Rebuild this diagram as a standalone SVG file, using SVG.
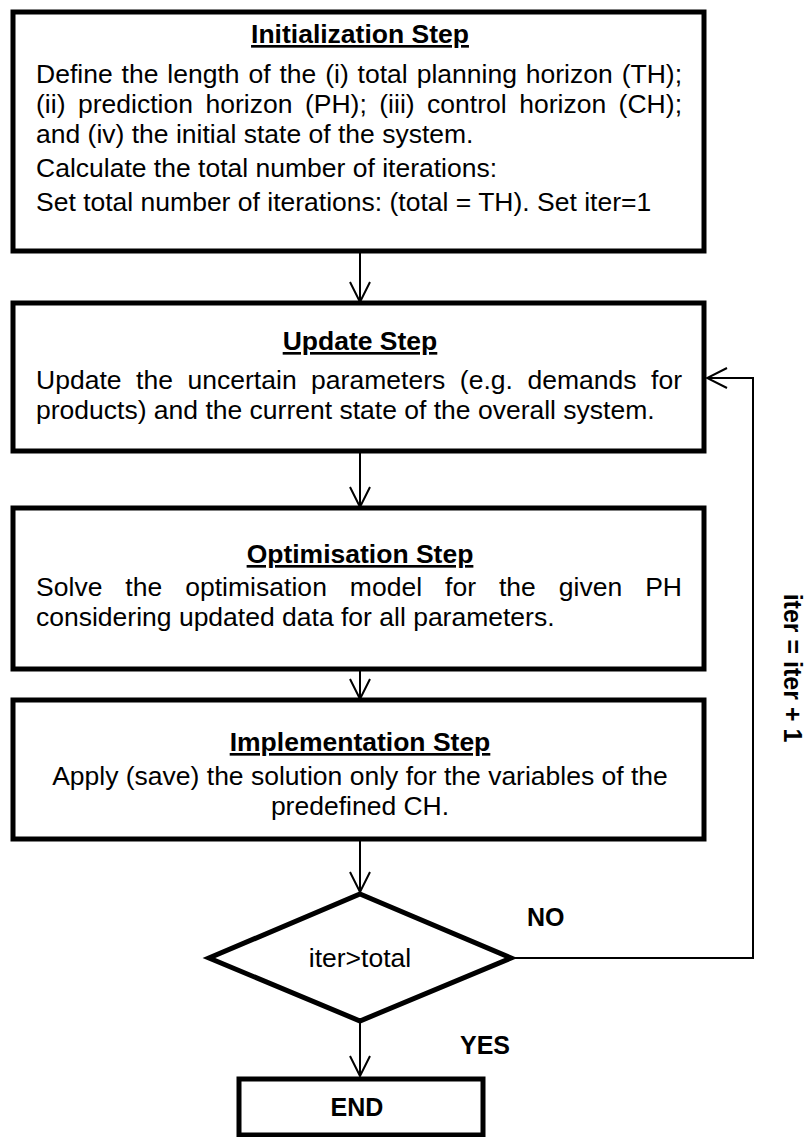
<svg xmlns="http://www.w3.org/2000/svg" width="808" height="1137" viewBox="0 0 808 1137">
  <style>
    .box { fill: #ffffff; stroke: #000000; stroke-width: 5; }
    .link { fill: none; stroke: #000000; stroke-width: 2; }
    .txt { font-family: "Liberation Sans", Arial, sans-serif; font-size: 26.5px; fill: #000000; }
    .ttl { font-family: "Liberation Sans", Arial, sans-serif; font-size: 26.5px; font-weight: bold; fill: #000000; text-decoration: underline; }
    .lbl { font-family: "Liberation Sans", Arial, sans-serif; font-size: 25px; font-weight: bold; fill: #000000; }
  </style>
  <defs>
    <marker id="open-arrow" markerUnits="userSpaceOnUse" markerWidth="24" markerHeight="24" viewBox="-22 -12 24 24" refX="0" refY="0" orient="auto">
      <path d="M-20,-10 L0,0 L-20,10" fill="none" stroke="#000000" stroke-width="2"/>
    </marker>
  </defs>
  <rect width="808" height="1137" fill="#ffffff"/>

  <!-- connectors -->
  <g id="connectors">
    <line class="link" x1="360" y1="253" x2="360" y2="302" marker-end="url(#open-arrow)"/>
    <line class="link" x1="360" y1="452" x2="360" y2="507" marker-end="url(#open-arrow)"/>
    <line class="link" x1="360" y1="670" x2="360" y2="699" marker-end="url(#open-arrow)"/>
    <line class="link" x1="360" y1="840" x2="360" y2="892" marker-end="url(#open-arrow)"/>
    <line class="link" x1="360" y1="1022" x2="360" y2="1076" marker-end="url(#open-arrow)"/>
    <polyline class="link" points="512,958 753,958 753,378 707,378" marker-end="url(#open-arrow)"/>
    <text class="lbl" x="527" y="926">NO</text>
    <text class="lbl" x="460" y="1054">YES</text>
    <text class="lbl" transform="translate(784 668) rotate(90)" text-anchor="middle">iter = iter + 1</text>
  </g>

  <!-- initialization -->
  <g id="init-step">
    <rect class="box" x="13" y="12" width="691" height="239"/>
    <text class="ttl" x="360" y="43" text-anchor="middle">Initialization Step</text>
    <text class="txt" x="36" y="83" word-spacing="1.5" textLength="646" lengthAdjust="spacing">Define the length of the (i) total planning horizon (TH);</text>
    <text class="txt" x="36" y="113" word-spacing="5" textLength="646" lengthAdjust="spacing">(ii) prediction horizon (PH); (iii) control horizon (CH);</text>
    <text class="txt" x="36" y="143">and (iv) the initial state of the system.</text>
    <text class="txt" x="36" y="177">Calculate the total number of iterations:</text>
    <text class="txt" x="36" y="211">Set total number of iterations: (total = TH). Set iter=1</text>
  </g>

  <!-- update -->
  <g id="update-step">
    <rect class="box" x="13" y="303" width="691" height="148"/>
    <text class="ttl" x="360" y="350" text-anchor="middle">Update Step</text>
    <text class="txt" x="36" y="389" word-spacing="7" textLength="646" lengthAdjust="spacing">Update the uncertain parameters (e.g. demands for</text>
    <text class="txt" x="36" y="419">products) and the current state of the overall system.</text>
  </g>

  <!-- optimisation -->
  <g id="optimisation-step">
    <rect class="box" x="13" y="508" width="691" height="161"/>
    <text class="ttl" x="360" y="563" text-anchor="middle">Optimisation Step</text>
    <text class="txt" x="36" y="596" word-spacing="15.5" textLength="646" lengthAdjust="spacing">Solve the optimisation model for the given PH</text>
    <text class="txt" x="36" y="626">considering updated data for all parameters.</text>
  </g>

  <!-- implementation -->
  <g id="implementation-step">
    <rect class="box" x="13" y="700" width="691" height="139"/>
    <text class="ttl" x="360" y="751" text-anchor="middle">Implementation Step</text>
    <text class="txt" x="360" y="785" text-anchor="middle">Apply (save) the solution only for the variables of the</text>
    <text class="txt" x="360" y="815" text-anchor="middle">predefined CH.</text>
  </g>

  <!-- decision -->
  <g id="iter-check">
    <polygon class="box" points="360,894 511,958 360,1021 209,958"/>
    <text class="txt" x="360" y="967" text-anchor="middle">iter&gt;total</text>
  </g>

  <!-- end -->
  <g id="end-node">
    <rect class="box" x="239" y="1079" width="244" height="56"/>
    <text class="lbl" x="357" y="1116" text-anchor="middle" font-size="26">END</text>
  </g>
</svg>
